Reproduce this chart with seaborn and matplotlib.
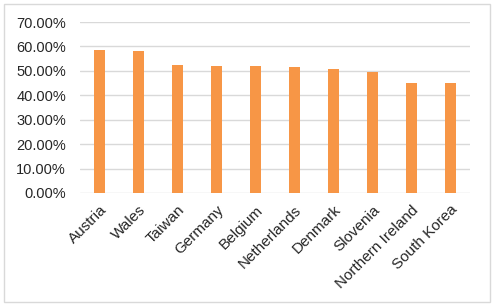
import matplotlib
matplotlib.use("Agg")
import matplotlib.pyplot as plt
import seaborn as sns
import pandas as pd
from matplotlib.patches import Rectangle
from matplotlib.ticker import PercentFormatter

countries = ["Austria", "Wales", "Taiwan", "Germany", "Belgium", "Netherlands",
             "Denmark", "Slovenia", "Northern Ireland", "South Korea"]
values = [0.587, 0.583, 0.523, 0.519, 0.519, 0.515, 0.507, 0.496, 0.452, 0.452]
yticks = [0.0, 0.1, 0.2, 0.3, 0.4, 0.5, 0.6, 0.7]

df = pd.DataFrame({"country": countries, "value": values})

sns.set_theme(style="white")
plt.rcParams['font.family'] = ['Liberation Sans', 'DejaVu Sans']

fig = plt.figure(figsize=(4.95, 3.06), dpi=100)
ax = fig.add_axes([80/495, 1-193/306, 390/495, (193-22)/306])

sns.barplot(data=df, x="country", y="value", ax=ax, color="#F79646",
            saturation=1, width=0.3, linewidth=0, zorder=3)

ax.set_ylim(0, 0.7)
ax.set_yticks(yticks)
ax.yaxis.set_major_formatter(PercentFormatter(1.0, decimals=2))
ax.set_xlim(-0.5, len(countries) - 0.5)
ax.grid(axis="y", color="#D9D9D9", linewidth=1.0, zorder=0)
ax.set_axisbelow(True)
for s in ax.spines.values():
    s.set_visible(False)
ax.set_xlabel("")
ax.set_ylabel("")
ax.tick_params(axis="both", length=0, colors="#262626")
ax.tick_params(axis="y", pad=10, labelsize=10.5)
ax.tick_params(axis="x", pad=7, labelsize=11)
for lbl in ax.get_xticklabels():
    lbl.set_rotation(45)
    lbl.set_ha("right")
    lbl.set_rotation_mode("anchor")

fig.patches.append(Rectangle((4/495, 1-302/306), 486/495, 298/306,
                             transform=fig.transFigure, fill=False,
                             edgecolor="#D9D9D9", linewidth=1.0))

fig.savefig("out.png", dpi=100)
